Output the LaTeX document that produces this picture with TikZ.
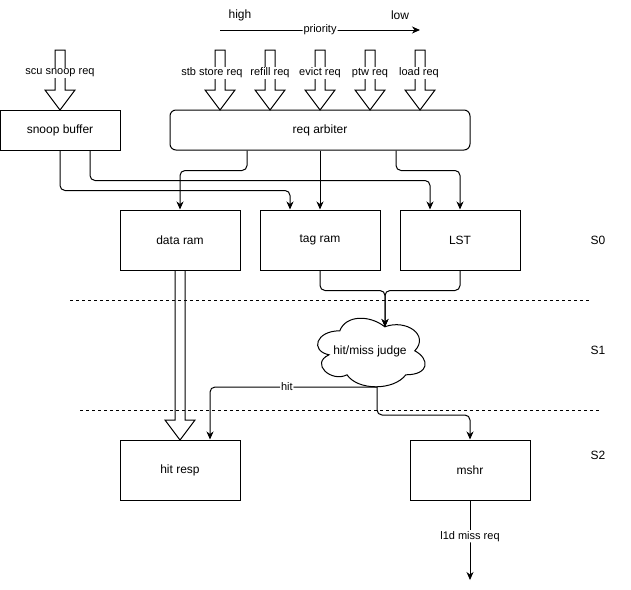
\documentclass[tikz,border=0pt]{standalone}
\usepackage{fontspec}
\setmainfont{Liberation Sans}
\usetikzlibrary{arrows.meta}

\tikzset{
  txt/.style={font=\fontsize{12}{14}\selectfont},
  box/.style={draw, line width=1pt, minimum width=120pt, minimum height=60pt, txt},
  conn/.style={draw, line width=1pt, rounded corners=5pt, -{Stealth[length=8pt,width=7pt,inset=2.5pt]}},
  lbl/.style={fill=white, inner sep=1pt, font=\fontsize{11}{13}\selectfont},
  fat/.style={draw, line width=1pt},
  stageline/.style={draw, line width=1pt, dash pattern=on 3pt off 3pt}
}

\begin{document}
\begin{tikzpicture}[x=1pt, y=-1pt]
  \useasboundingbox (0,0) rectangle (631,589);

  % priority
  \node[txt] (high) at (240,15) {high};
  \node[txt] (low) at (400,15) {low};
  \coordinate (pstart) at (220,30);
  \coordinate (pend) at (420,30);
  \draw[conn] (pstart) -- node[lbl] {priority} (pend);

  % incoming requests
  \foreach \x/\t/\lx in {60/scu snoop req/60, 220/stb store req/212, 270/refill req/270,
                          320/evict req/320, 370/ptw req/370, 420/load req/419} {
    \draw[fat, fill=white] (\x-5,50) -- (\x+5,50) -- (\x+5,90) -- (\x+15,90) -- (\x,110)
      -- (\x-15,90) -- (\x-5,90) -- cycle;
    \node[lbl] (in\x) at (\lx,73) {\t};
  }

  \node[box, minimum height=40pt] (snoop) at (60,130) {snoop buffer};
  \node[box, minimum width=300pt, minimum height=40pt, rounded corners=6pt] (arb) at (320,130) {req arbiter};

  % S0
  \node[box] (data) at (180,240) {data ram};
  \node[box] (tag) at (320,240) {tag ram};
  \node[box] (lst) at (460,240) {LST};
  \node[txt] (s0) at (598,240) {S0};

  \draw[conn] (snoop.south) -- ++(0,40) -| ([xshift=-30pt]tag.north);
  \draw[conn] ([xshift=30pt]snoop.south) -- ++(0,30) -| ([xshift=-30pt]lst.north);
  \draw[conn] ([xshift=-73pt]arb.south) -- ++(0,20) -| (data.north);
  \draw[conn] (arb.south) -- (tag.north);
  \draw[conn] ([xshift=76pt]arb.south) -- ++(0,20) -| (lst.north);

  % S1
  \node[minimum width=120pt, minimum height=80pt, inner sep=0pt, txt] (judge) at (370,351) {hit/miss judge};
  \draw[line width=1pt, shift={(judge.north west)}, x=120pt, y=-80pt]
    (0.25,0.25) .. controls (0.05,0.25) and (0,0.5) .. (0.16,0.55)
    .. controls (0,0.66) and (0.18,0.9) .. (0.31,0.8)
    .. controls (0.4,1) and (0.7,1) .. (0.8,0.8)
    .. controls (1,0.8) and (1,0.6) .. (0.875,0.5)
    .. controls (1,0.3) and (0.8,0.1) .. (0.625,0.2)
    .. controls (0.5,0.05) and (0.3,0.05) .. (0.25,0.25) -- cycle;
  \node[txt] (s1) at (598,350) {S1};
  \coordinate (judgein) at (385,327);
  \coordinate (judgeout) at (377,387);

  \draw[conn] (tag.south) -- ++(0,20) -| (judgein);
  \draw[conn] (lst.south) -- ++(0,20) -| (judgein);

  % S2
  \node[box] (hit) at (180,470) {hit resp};
  \node[box] (mshr) at (470,470) {mshr};
  \node[txt] (s2) at (598,455) {S2};
  \coordinate (l1dout) at (470,580);

  \draw[fat] (175,270) -- (175,420) -- (165,420) -- (180,440) -- (195,420) -- (185,420) -- (185,270);
  \draw[conn] (judgeout) -| node[lbl, pos=0.27] {hit} ([xshift=30pt]hit.north);
  \draw[conn] (judgeout) -- ++(0,28) -| (mshr.north);
  \draw[conn] (mshr.south) -- node[lbl, pos=0.45] {l1d miss req} (l1dout);

  % stage borders
  \coordinate (b1l) at (70,300);
  \coordinate (b1r) at (590,300);
  \coordinate (b2l) at (80,410);
  \coordinate (b2r) at (600,410);
  \draw[stageline] (b1l) -- (b1r);
  \draw[stageline] (b2l) -- (b2r);
\end{tikzpicture}
\end{document}
